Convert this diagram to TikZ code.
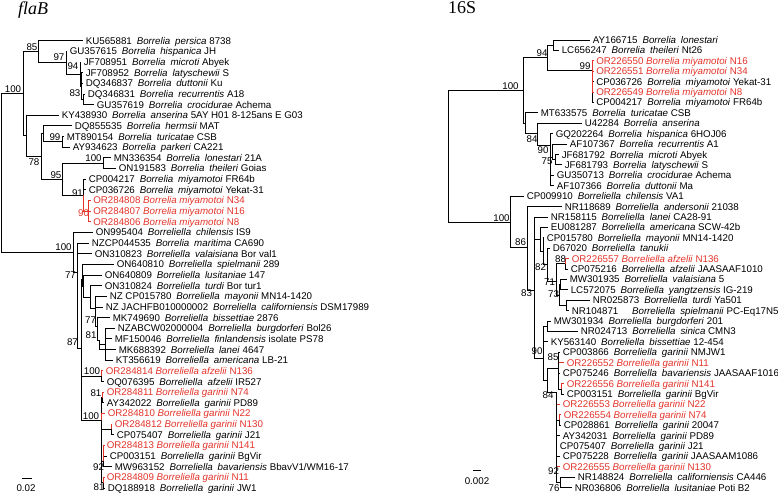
\documentclass[tikz,border=0pt]{standalone}
\usepackage{fontspec}
\setmainfont{Liberation Sans}
\newfontfamily\ttlfont{Liberation Serif}
\definecolor{myred}{RGB}{228,52,42}
\newcommand\gs{\hspace{0.5em}}
\newcommand\bk[4]{#1\gs\textit{#2}\gs\textit{#3} #4}
\newcommand\rr[4]{#1 \textit{#2 #3} #4}
\newcommand\LLeaf[5][]{\coordinate (#2) at (#4,{40.7+10.65*#3}); \node[lf,#1] (#2t) at (#2) {#5};}
\newcommand\RLeaf[5][]{\coordinate (#2) at (#4,{40+10.41*#3}); \node[lf,#1] (#2t) at (#2) {#5};}
\begin{document}
\begin{tikzpicture}[x=1pt,y=-1pt,
  lf/.style={anchor=west,inner xsep=2.6pt,inner ysep=0pt,text height=7pt,text depth=0pt,font=\fontsize{9.75}{11}\selectfont},
  rlf/.style={lf,text=myred},
  bs/.style={inner sep=0pt,text height=7pt,text depth=0pt,font=\fontsize{9.75}{11}\selectfont},
  br/.style={line width=0.85pt,draw=black},
  rb/.style={line width=0.85pt,draw=myred},
  ttl/.style={anchor=base west,inner sep=0pt,font=\fontsize{18}{20}\ttlfont}]
\useasboundingbox (0,0) rectangle (778,494);
\fill[white] (0,0) rectangle (778,494);

% ---------------- titles ----------------
\node[ttl] (t1) at (18,15) {\itshape flaB};
\node[ttl] (t2) at (448,14) {16S};

% ---------------- left tree leaves ----------------
\LLeaf{a0}{0}{83}{\bk{KU565881}{Borrelia}{persica}{8738}}
\LLeaf{a1}{1}{67}{\bk{GU357615}{Borrelia}{hispanica}{JH}}
\LLeaf{a2}{2}{81}{\bk{JF708951}{Borrelia}{microti}{Abyek}}
\LLeaf{a3}{3}{83}{\bk{JF708952}{Borrelia}{latyschewii}{S}}
\LLeaf{a4}{4}{83}{\bk{DQ346837}{Borrelia}{duttonii}{Ku}}
\LLeaf{a5}{5}{85}{\bk{DQ346831}{Borrelia}{recurrentis}{A18}}
\LLeaf{a6}{6}{94}{\bk{GU357619}{Borrelia}{crocidurae}{Achema}}
\LLeaf{a7}{7}{59}{\bk{KY438930}{Borrelia}{anserina}{5AY H01 8-125ans E G03}}
\LLeaf{a8}{8}{72}{\bk{DQ855535}{Borrelia}{hermsii}{MAT}}
\LLeaf{a9}{9}{64}{\bk{MT890154}{Borrelia}{turicatae}{CSB}}
\LLeaf{a10}{10}{70}{\bk{AY934623}{Borrelia}{parkeri}{CA221}}
\LLeaf{a11}{11}{111}{\bk{MN336354}{Borrelia}{lonestari}{21A}}
\LLeaf{a12}{12}{116}{\bk{ON191583}{Borrelia}{theileri}{Goias}}
\LLeaf{a13}{13}{86}{\bk{CP004217}{Borrelia}{miyamotoi}{FR64b}}
\LLeaf{a14}{14}{86}{\bk{CP036726}{Borrelia}{miyamotoi}{Yekat-31}}
\LLeaf[rlf]{a15}{15}{90.5}{\rr{OR284808}{Borrelia}{miyamotoi}{N34}}
\LLeaf[rlf]{a16}{16}{90.5}{\rr{OR284807}{Borrelia}{miyamotoi}{N16}}
\LLeaf[rlf]{a17}{17}{90.5}{\rr{OR284806}{Borrelia}{miyamotoi}{N8}}
\LLeaf{a18}{18}{93}{\bk{ON995404}{Borreliella}{chilensis}{IS9}}
\LLeaf{a19}{19}{89}{\bk{NZCP044535}{Borrelia}{maritima}{CA690}}
\LLeaf{a20}{20}{92}{\bk{ON310823}{Borreliella}{valaisiana}{Bor val1}}
\LLeaf{a21}{21}{114}{\bk{ON640810}{Borreliella}{spielmanii}{289}}
\LLeaf{a22}{22}{102}{\bk{ON640809}{Borreliella}{lusitaniae}{147}}
\LLeaf{a23}{23}{102}{\bk{ON310824}{Borreliella}{turdi}{Bor tur1}}
\LLeaf{a24}{24}{107}{\bk{NZ CP015780}{Borreliella}{mayonii}{MN14-1420}}
\LLeaf{a25}{25}{103}{\bk{NZ JACHFB010000002}{Borreliella}{californiensis}{DSM17989}}
\LLeaf{a26}{26}{110}{\bk{MK749690}{Borreliella}{bissettiae}{2876}}
\LLeaf{a27}{27}{115}{\bk{NZABCW02000004}{Borreliella}{burgdorferi}{Bol26}}
\LLeaf{a28}{28}{112}{\bk{MF150046}{Borreliella}{finlandensis}{isolate PS78}}
\LLeaf{a29}{29}{116}{\bk{MK688392}{Borreliella}{lanei}{4647}}
\LLeaf{a30}{30}{113}{\bk{KT356619}{Borreliella}{americana}{LB-21}}
\LLeaf[rlf]{a31}{31}{103}{\rr{OR284814}{Borreliella}{afzelii}{N136}}
\LLeaf{a32}{32}{104}{\bk{OQ076395}{Borreliella}{afzelii}{IR527}}
\LLeaf[rlf]{a33}{33}{104}{\rr{OR284811}{Borreliella}{garinii}{N74}}
\LLeaf{a34}{34}{104}{\bk{AY342022}{Borreliella}{garinii}{PD89}}
\LLeaf[rlf]{a35}{35}{105}{\rr{OR284810}{Borreliella}{garinii}{N22}}
\LLeaf[rlf]{a36}{36}{112}{\rr{OR284812}{Borreliella}{garinii}{N130}}
\LLeaf{a37}{37}{114}{\bk{CP075407}{Borreliella}{garinii}{J21}}
\LLeaf[rlf]{a38}{38}{104}{\rr{OR284813}{Borreliella}{garinii}{N141}}
\LLeaf{a39}{39}{107}{\bk{CP003151}{Borreliella}{garinii}{BgVir}}
\LLeaf{a40}{40}{112}{\bk{MW963152}{Borreliella}{bavariensis}{BbavV1/WM16-17}}
\LLeaf[rlf]{a41}{41}{104}{\rr{OR284809}{Borreliella}{garinii}{N11}}
\LLeaf{a42}{42}{105}{\bk{DQ188918}{Borreliella}{garinii}{JW1}}

% ---------------- left tree internal nodes ----------------
\coordinate (R1) at (1.5,172);
\coordinate (U100) at (23,93.8);
\coordinate (N85) at (38,51.7);
\coordinate (N97) at (66,62.7);
\coordinate (N94) at (80,74);
\coordinate (W) at (81.5,86);
\coordinate (N83) at (83,99.3);
\coordinate (X) at (26,135.9);
\coordinate (N78) at (41,156.5);
\coordinate (nA) at (43,133.9);
\coordinate (N99) at (62,141.9);
\coordinate (N95) at (62,179.2);
\coordinate (N100b) at (103,163.2);
\coordinate (N91) at (83,195.1);
\coordinate (N90) at (88.5,211.1);
\coordinate (L100) at (73,252);
\coordinate (Z) at (77,272);
\coordinate (Q) at (77,301);
\coordinate (N87) at (81,348);
\coordinate (N77) at (82,279);
\coordinate (M1) at (83,286);
\coordinate (M2) at (90,297);
\coordinate (M3) at (95,308);
\coordinate (N77b) at (97,326);
\coordinate (N81) at (99,340);
\coordinate (K1) at (105,344);
\coordinate (A100) at (101,376.2);
\coordinate (G) at (101.5,420);
\coordinate (G81a) at (102.5,397.5);
\coordinate (Gc) at (111,429.4);
\coordinate (G92) at (103.5,461);
\coordinate (G81b) at (103.5,482.7);

% ---------------- right tree leaves ----------------
\RLeaf{b0}{0}{590}{\bk{AY166715}{Borrelia}{lonestari}{}}
\RLeaf{b1}{1}{559}{\bk{LC656247}{Borrelia}{theileri}{Nt26}}
\RLeaf[rlf]{b2}{2}{593.5}{\rr{OR226550}{Borrelia}{miyamotoi}{N16}}
\RLeaf[rlf]{b3}{3}{593.5}{\rr{OR226551}{Borrelia}{miyamotoi}{N34}}
\RLeaf{b4}{4}{593.5}{\bk{CP036726}{Borrelia}{miyamotoi}{Yekat-31}}
\RLeaf[rlf]{b5}{5}{593.5}{\rr{OR226549}{Borrelia}{miyamotoi}{N8}}
\RLeaf{b6}{6}{593.5}{\bk{CP004217}{Borrelia}{miyamotoi}{FR64b}}
\RLeaf{b7}{7}{538}{\bk{MT633575}{Borrelia}{turicatae}{CSB}}
\RLeaf{b8}{8}{582}{\bk{U42284}{Borrelia}{anserina}{}}
\RLeaf{b9}{9}{553}{\bk{GQ202264}{Borrelia}{hispanica}{6HOJ06}}
\RLeaf{b10}{10}{567}{\bk{AF107367}{Borrelia}{recurrentis}{A1}}
\RLeaf{b11}{11}{559}{\bk{JF681792}{Borrelia}{microti}{Abyek}}
\RLeaf{b12}{12}{562}{\bk{JF681793}{Borrelia}{latyschewii}{S}}
\RLeaf{b13}{13}{554}{\bk{GU350713}{Borrelia}{crocidurae}{Achema}}
\RLeaf{b14}{14}{554}{\bk{AF107366}{Borrelia}{duttonii}{Ma}}
\RLeaf{b15}{15}{524}{\bk{CP009910}{Borreliella}{chilensis}{VA1}}
\RLeaf{b16}{16}{562}{\bk{NR118689}{Borreliella}{andersonii}{21038}}
\RLeaf{b17}{17}{548}{\bk{NR158115}{Borreliella}{lanei}{CA28-91}}
\RLeaf{b18}{18}{548}{\bk{EU081287}{Borreliella}{americana}{SCW-42b}}
\RLeaf{b19}{19}{544}{\bk{CP015780}{Borreliella}{mayonii}{MN14-1420}}
\RLeaf{b20}{20}{550}{\bk{D67020}{Borreliella}{tanukii}{}}
\RLeaf[rlf]{b21}{21}{569}{\rr{OR226557}{Borreliella}{afzelii}{N136}}
\RLeaf{b22}{22}{568}{\bk{CP075216}{Borreliella}{afzelii}{JAASAAF1010}}
\RLeaf{b23}{23}{567}{\bk{MW301935}{Borreliella}{valaisiana}{5}}
\RLeaf{b24}{24}{568}{\bk{LC572075}{Borreliella}{yangtzensis}{IG-219}}
\RLeaf{b25}{25}{590}{\bk{NR025873}{Borreliella}{turdi}{Ya501}}
\RLeaf{b26}{26}{569}{\bk{NR104871\hspace{0.9em}}{Borreliella}{spielmanii}{PC-Eq17N5}}
\RLeaf{b27}{27}{551}{\bk{MW301934}{Borreliella}{burgdorferi}{201}}
\RLeaf{b28}{28}{578}{\bk{NR024713}{Borreliella}{sinica}{CMN3}}
\RLeaf{b29}{29}{548}{\bk{KY563140}{Borreliella}{bissettiae}{12-454}}
\RLeaf{b30}{30}{560}{\bk{CP003866}{Borreliella}{garinii}{NMJW1}}
\RLeaf[rlf]{b31}{31}{564}{\rr{OR226552}{Borreliella}{garinii}{N11}}
\RLeaf{b32}{32}{560}{\bk{CP075246}{Borreliella}{bavariensis}{JAASAAF1016}}
\RLeaf[rlf]{b33}{33}{564}{\rr{OR226556}{Borreliella}{garinii}{N141}}
\RLeaf{b34}{34}{564}{\bk{CP003151}{Borreliella}{garinii}{BgVir}}
\RLeaf[rlf]{b35}{35}{560}{\rr{OR226553}{Borreliella}{garinii}{N22}}
\RLeaf[rlf]{b36}{36}{561}{\rr{OR226554}{Borreliella}{garinii}{N74}}
\RLeaf{b37}{37}{561}{\bk{CP028861}{Borreliella}{garinii}{20047}}
\RLeaf{b38}{38}{560}{\bk{AY342031}{Borreliella}{garinii}{PD89}}
\RLeaf{b39}{39}{557}{\bk{CP075407}{Borreliella}{garinii}{J21}}
\RLeaf{b40}{40}{560}{\bk{CP075228}{Borreliella}{garinii}{JAASAAM1086}}
\RLeaf[rlf]{b41}{41}{560}{\rr{OR226555}{Borreliella}{garinii}{N130}}
\RLeaf{b42}{42}{575}{\bk{NR148824}{Borreliella}{californiensis}{CA446}}
\RLeaf{b43}{43}{572}{\bk{NR036806}{Borreliella}{lusitaniae}{Poti B2}}

% ---------------- right tree internal nodes ----------------
\coordinate (R2) at (448,156);
\coordinate (B100) at (523,90);
\coordinate (N94r) at (547,57.6);
\coordinate (LN) at (553,45.2);
\coordinate (N99r) at (592,70);
\coordinate (Cr) at (525,123);
\coordinate (N84a) at (537,133.7);
\coordinate (N90a) at (550,145);
\coordinate (N75) at (552.5,157);
\coordinate (NJ) at (555,159.7);
\coordinate (D100) at (510,222);
\coordinate (N86) at (527,247);
\coordinate (N83r) at (534,290);
\coordinate (L1) at (540,239.3);
\coordinate (L2) at (543,251.2);
\coordinate (N82) at (547,264.6);
\coordinate (N71) at (556,281);
\coordinate (N88) at (565,263.8);
\coordinate (N73) at (559,295);
\coordinate (NMW) at (560.5,284.6);
\coordinate (NNR) at (566,305.5);
\coordinate (N90r) at (543,358);
\coordinate (NS) at (547,326.3);
\coordinate (N84r) at (547,380);
\coordinate (N85r) at (558,368);
\coordinate (N141) at (561,389);
\coordinate (N92) at (556,392);
\coordinate (N74) at (559,420);
\coordinate (N76) at (560,482.3);

% ---------------- red edges under black ----------------
\draw[rb] (N85r) |- (b31);
\draw[rb] (N92) |- (b35);
\draw[rb] (N92) |- (b41);

% ---------------- black edges, left ----------------
\foreach \p/\c in {R1/U100,R1/L100,U100/N85,U100/X,N85/a0,N85/N97,N97/a1,N97/N94,
  N94/a2,N94/W,W/a3,W/a4,W/N83,N83/a5,N83/a6,X/a7,X/N78,N78/nA,N78/N95,nA/a8,nA/N99,
  N99/a9,N99/a10,N95/N100b,N95/N91,N100b/a11,N100b/a12,N91/a13,N91/a14,
  L100/a18,L100/Z,Z/a19,Z/Q,Q/a20,Q/N87,N87/N77,N87/A100,N87/G,N77/a21,N77/M1,
  M1/a22,M1/M2,M2/a23,M2/M3,M3/a24,M3/a25,M3/N77b,N77b/a26,N77b/N81,N81/K1,N81/a29,
  K1/a27,K1/a28,K1/a30,A100/a32,G/G81a,G/Gc,G/G92,G/G81b,G81a/a34,Gc/a37,
  G92/a39,G92/a40,G81b/a42}
  \draw[br] (\p) |- (\c);

% ---------------- black edges, right ----------------
\foreach \p/\c in {R2/B100,R2/D100,B100/N94r,B100/Cr,N94r/LN,N94r/N99r,LN/b0,LN/b1,
  N99r/b4,N99r/b6,Cr/b7,Cr/N84a,N84a/b8,N84a/N90a,N90a/b9,N90a/N75,N90a/b13,N90a/b14,
  N75/b10,N75/NJ,NJ/b11,NJ/b12,D100/b15,D100/N86,N86/b16,N86/N83r,N83r/b17,N83r/L1,
  N83r/N90r,L1/b18,L1/L2,L2/b19,L2/N82,N82/b20,N82/N71,N71/N88,N71/N73,N88/b22,
  N73/NMW,N73/NNR,NMW/b23,NMW/b24,NNR/b25,NNR/b26,N90r/NS,N90r/b29,N90r/N84r,
  NS/b27,NS/b28,N84r/N85r,N84r/N92,N85r/b30,N85r/b32,N85r/N141,N141/b34,
  N92/N74,N92/b38,N92/b39,N92/b40,N92/N76,N74/b37,N76/b42,N76/b43}
  \draw[br] (\p) |- (\c);

% ---------------- red edges on top ----------------
\foreach \p/\c in {N91/N90,N90/a15,N90/a16,N90/a17,A100/a31,G/a35,G81a/a33,Gc/a36,
  G92/a38,G81b/a41,N99r/b2,N99r/b3,N99r/b5,N88/b21,N141/b33,N74/b36}
  \draw[rb] (\p) |- (\c);

% ---------------- bootstrap values, left ----------------
\node[bs] (s1) at (13,89) {100};
\node[bs] (s2) at (32,47) {85};
\node[bs] (s3) at (59,57) {97};
\node[bs] (s4) at (73,66.5) {94};
\node[bs] (s5) at (75,93) {83};
\node[bs] (s6) at (34,162) {78};
\node[bs] (s7) at (55,137) {99};
\node[bs] (s8) at (93.5,158.5) {100};
\node[bs] (s9) at (56,175) {95};
\node[bs] (s10) at (77.5,193) {91};
\node[bs,text=myred] (s11) at (83.5,213) {90};
\node[bs] (s12) at (63.5,246.5) {100};
\node[bs] (s13) at (70.5,275) {77};
\node[bs] (s14) at (72.5,341.5) {87};
\node[bs] (s15) at (90.5,320) {77};
\node[bs] (s16) at (91,335) {81};
\node[bs] (s17) at (92,371) {100};
\node[bs] (s18) at (96,393) {81};
\node[bs] (s19) at (91,416) {100};
\node[bs] (s20) at (98.5,467) {92};
\node[bs] (s21) at (99,486.5) {81};

% ---------------- bootstrap values, right ----------------
\node[bs] (r1) at (542,53.5) {94};
\node[bs] (r2) at (585,66) {99};
\node[bs] (r3) at (510.5,86.5) {100};
\node[bs] (r4) at (532,139) {84};
\node[bs] (r5) at (543,150) {90};
\node[bs] (r6) at (547,161.5) {75};
\node[bs] (r7) at (501.5,218) {100};
\node[bs] (r8) at (520.5,242) {86};
\node[bs] (r9) at (560.5,259) {88};
\node[bs] (r10) at (540.5,266.5) {82};
\node[bs] (r11) at (549.5,281.5) {71};
\node[bs] (r12) at (553.5,293.5) {73};
\node[bs] (r13) at (526.5,293) {83};
\node[bs] (r14) at (537,351) {90};
\node[bs] (r15) at (553,357) {85};
\node[bs] (r16) at (548,395) {84};
\node[bs] (r17) at (553.5,470.5) {92};
\node[bs] (r18) at (554,488) {76};

% ---------------- scale bars ----------------
\coordinate (sa1) at (22,478);
\coordinate (sa2) at (32,478);
\draw[line width=1pt] (sa1) -- (sa2);
\node[bs] (sat) at (26,488) {0.02};
\coordinate (sb1) at (473,470);
\coordinate (sb2) at (481,470);
\draw[line width=1pt] (sb1) -- (sb2);
\node[bs] (sbt) at (477,481) {0.002};
\end{tikzpicture}
\end{document}
